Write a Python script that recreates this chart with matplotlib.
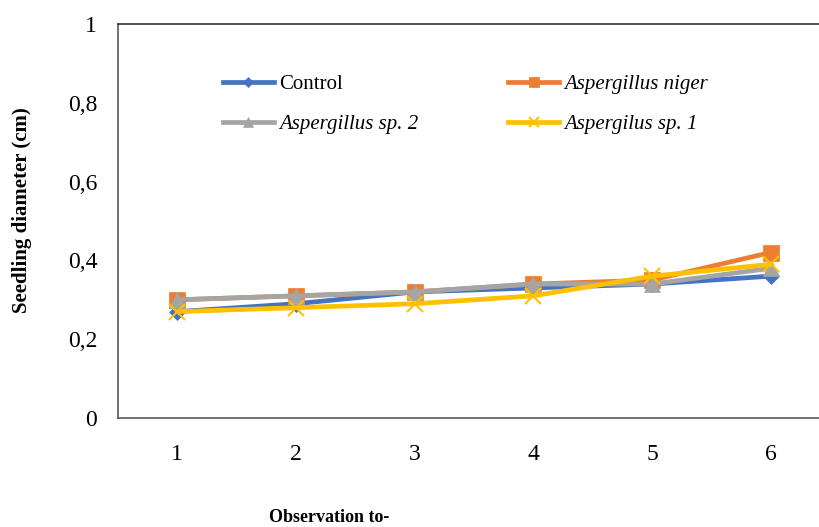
import matplotlib.pyplot as plt
from matplotlib.ticker import FuncFormatter

observations = [1, 2, 3, 4, 5, 6]
control = [0.27, 0.29, 0.32, 0.33, 0.34, 0.36]
a_niger = [0.30, 0.31, 0.32, 0.34, 0.35, 0.42]
a_sp2 = [0.30, 0.31, 0.32, 0.34, 0.34, 0.38]
a_sp1 = [0.27, 0.28, 0.29, 0.31, 0.36, 0.39]

SERIES = [
    ("Control", control, "#4472C4", "D", 8),
    ("Aspergillus niger", a_niger, "#ED7D31", "s", 11),
    ("Aspergillus sp. 2", a_sp2, "#A5A5A5", "^", 11),
    ("Aspergilus sp. 1", a_sp1, "#FFC000", "x", 11),
]

plt.rcParams["font.family"] = ["Liberation Serif", "DejaVu Serif"]

W, H = 819, 527
fig = plt.figure(figsize=(W / 100, H / 100), dpi=100)
ax = fig.add_axes([118 / W, 1 - 418 / H, (830 - 118) / W, (418 - 24) / H])

lines = {}
for name, vals, color, marker, ms in SERIES:
    (ln,) = ax.plot(observations, vals, color=color, lw=3.4, marker=marker,
                    markersize=ms, markeredgewidth=1.5 if marker == "x" else 0.5,
                    markeredgecolor=color, label=name)
    lines[name] = ln

ax.set_xlim(0.5, 6.5)
ax.set_ylim(0, 1)
ax.set_yticks([0, 0.2, 0.4, 0.6, 0.8, 1.0])
ax.yaxis.set_major_formatter(FuncFormatter(lambda v, p: ("%g" % round(v, 1)).replace(".", ",")))
ax.set_xticks(observations)
ax.tick_params(axis="both", length=0, labelsize=17)
ax.tick_params(axis="y", pad=15)
ax.tick_params(axis="x", pad=19)

for side in ["left", "bottom"]:
    ax.spines[side].set_color("#595959")
    ax.spines[side].set_linewidth(1.2)
ax.spines["top"].set_color("#333333")
ax.spines["top"].set_linewidth(1.2)
ax.spines["right"].set_visible(False)

# two-row legend: Control / niger on top, sp. 2 / sp. 1 below
order = ["Control", "Aspergillus sp. 2", "Aspergillus niger", "Aspergilus sp. 1"]
leg = ax.legend([lines[n] for n in order], order, ncol=2, frameon=False,
                loc="upper left", bbox_to_anchor=(0.121, 0.92), fontsize=15,
                handlelength=2.45, handletextpad=0.25, columnspacing=4.3,
                labelspacing=1.0, markerscale=0.65)
for txt in leg.get_texts():
    if txt.get_text() != "Control":
        txt.set_fontstyle("italic")

fig.text(22 / W, 1 - 210 / H, "Seedling diameter (cm)", rotation=90,
         ha="center", va="center", fontsize=15, fontweight="bold")
fig.text(329 / W, 1 - 518 / H, "Observation to-", ha="center", va="center",
         fontsize=13, fontweight="bold")

fig.savefig("out.png", dpi=100)
